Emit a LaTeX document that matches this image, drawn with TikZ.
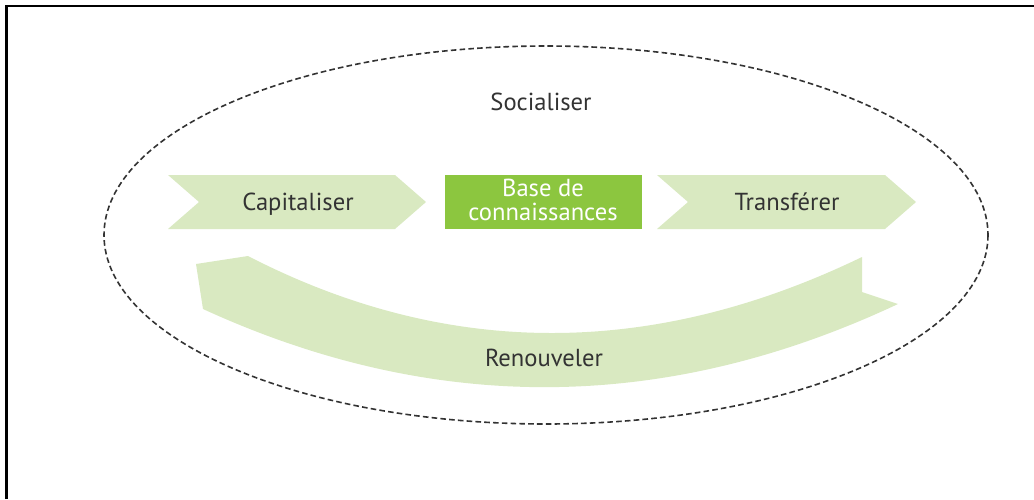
\documentclass[tikz,border=0pt]{standalone}
\usepackage{fontspec}
\setmainfont{PT Sans}
\usetikzlibrary{calc}
\definecolor{paleGreen}{HTML}{D9E9C1}
\definecolor{baseGreen}{HTML}{8CC63F}
\definecolor{textGray}{HTML}{333333}

\begin{document}
\begin{tikzpicture}[x=0.5pt,y=-0.5pt,
    cycleText/.style={text=textGray,inner sep=0pt,font=\fontsize{12.3}{11.8}\selectfont}]
      \useasboundingbox (0,0) rectangle (1034,499);
      \def\yt{175}\def\yb{229}\def\ym{202}\def\dp{31}
      \def\showFrame{
        \draw [line width=1.15pt] (6.5,499) -- (6.5,6) -- (1034,6);
      }
      \def\showCycle{
        \draw [dashed, dash pattern=on 2.8pt off 1.6pt, line width=0.8pt, textGray]
          (546,235) ellipse [x radius=442, y radius=189];
      }
      \def\showChevrons{
        % Capitaliser and Transferer
        \foreach \a/\b in {168/395, 657/885} {
          \fill [paleGreen] (\a,\yt) -- (\b,\yt) -- (\b+\dp,\ym) -- (\b,\yb)
            -- (\a,\yb) -- (\a+\dp,\ym) -- cycle;
        }
        % Base de connaissances
        \fill [baseGreen] (445,\yt) rectangle (642,\yb);
      }
      \def\showArc{
        \coordinate (r0) at (196,264);
        \coordinate (r1) at (248,256);
        \coordinate (r2) at (862,257);
        \coordinate (r3) at (862,292);
        \coordinate (r4) at (898,304);
        \coordinate (r5) at (203,309);
        \fill [paleGreen] (r0) -- (r1) .. controls (446,358) and (651,359) .. (r2)
          -- (r3) -- (r4) .. controls (666,413) and (434,415) .. (r5) -- cycle;
      }
      \def\showTexts{
        \node [cycleText] (socialiser) at (541,102) {Socialiser};
        \node [cycleText] (capitaliser) at (298,202) {Capitaliser};
        \node [cycleText, text=white, align=center] (base) at (543,200) {Base de\\connaissances};
        \node [cycleText] (transferer) at (787,202) {Transférer};
        \node [cycleText] (renouveler) at (544,358) {Renouveler};
      }
      \showFrame
      \showCycle
      \showChevrons
      \showArc
      \showTexts
    \end{tikzpicture}
\end{document}
